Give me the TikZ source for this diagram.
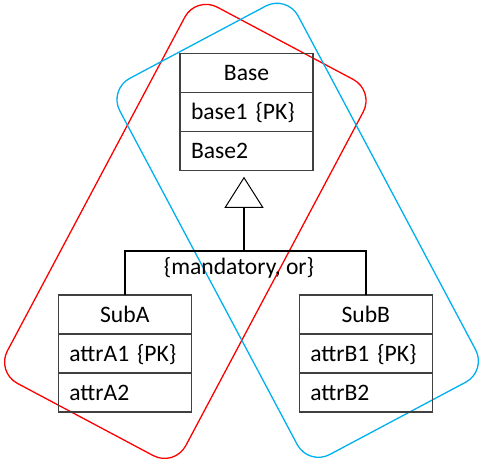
\documentclass[tikz,border=0pt]{standalone}
\usepackage{fontspec}
\setmainfont{Carlito}
\usetikzlibrary{arrows.meta,positioning}

\definecolor{setred}{HTML}{FF0000}
\definecolor{setblue}{HTML}{00B0F0}
\definecolor{boxgray}{HTML}{404040}

\tikzset{
  classhead/.style={draw=boxgray, line width=1.6pt, outer sep=0pt,
    minimum width=133pt, minimum height=39pt, text width=111pt,
    inner xsep=11pt, inner ysep=0pt, text height=15.5pt, text depth=0pt,
    align=center, font=\fontsize{23.6}{28}\selectfont},
  classrow/.style={classhead, align=left},
  genline/.style={line width=2.6pt, black},
  setbox/.style={rounded corners=24pt, line width=1.3pt,
    minimum width=202pt, minimum height=426pt, inner sep=0pt}
}

\begin{document}
\begin{tikzpicture}[x=1pt, y=-1pt]
    \useasboundingbox (0,0) rectangle (492,470);

    % Overlapping sets
    \node[setbox, draw=setred, rotate=-28] (redset) at (185.3,231.4) {};
    \node[setbox, draw=setblue, rotate=28] (blueset) at (297.7,230.3) {};

    % Supertype
    \node[classhead] (base) at (246.5,73) {Base};
    \node[classrow, below=0pt of base] (base1) {base1 \{PK\}};
    \node[classrow, below=0pt of base1] (base2) {Base2};

    % Subtypes
    \node[classhead] (suba) at (124.8,314.5) {SubA};
    \node[classrow, below=0pt of suba] (suba1) {attrA1 \{PK\}};
    \node[classrow, below=0pt of suba1] (suba2) {attrA2};

    \node[classhead] (subb) at (365.8,314.5) {SubB};
    \node[classrow, below=0pt of subb] (subb1) {attrB1 \{PK\}};
    \node[classrow, below=0pt of subb1] (subb2) {attrB2};

    % Generalization
    \coordinate (bar) at (244,251);
    \draw[genline, line width=2pt] (suba.north) |- (bar) -| (subb.north);
    \draw[genline, shorten >=6.3pt,
      -{Triangle[open, length=31pt, width=39pt, line width=1pt]}]
      (bar) -- (bar |- base2.south);

    \node[font=\fontsize{23.6}{28}\selectfont] (constraint) at (239,268) {\{mandatory, or\}};
\end{tikzpicture}
\end{document}
